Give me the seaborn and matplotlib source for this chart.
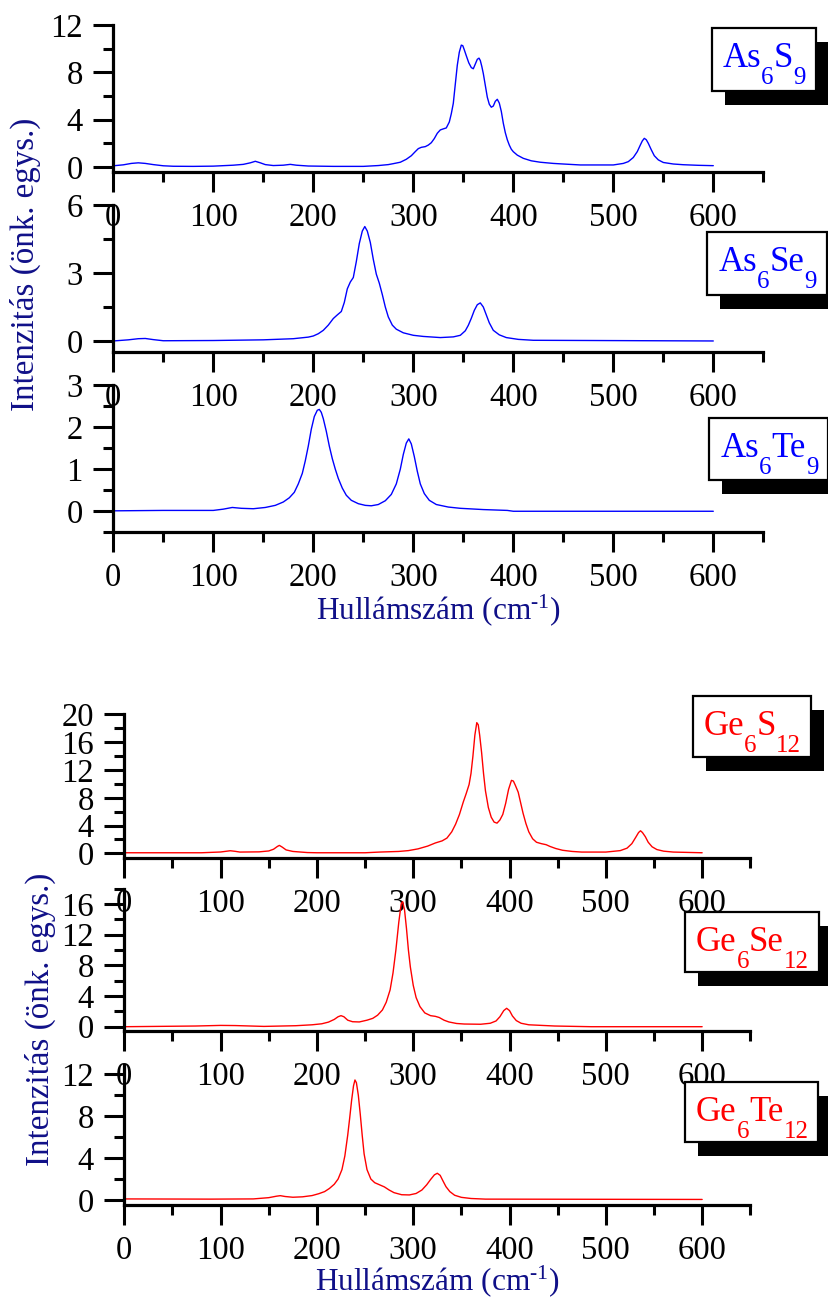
import matplotlib
matplotlib.use("Agg")
import matplotlib.pyplot as plt
from matplotlib.patches import Rectangle
from matplotlib.ticker import MultipleLocator, FormatStrFormatter
import pandas as pd
import seaborn as sns

# ---- Raman spectra (wavenumber in cm-1, intensity in arb. units) ----
as6s9_x = [0, 10, 18, 25, 32, 40, 50, 60, 80, 100, 120, 130, 137, 142, 147, 152, 160, 170, 177,
           183, 195, 220, 250, 265, 275, 280, 287, 293, 298, 302, 305, 308, 312, 315, 318, 321,
           324, 327, 330, 333, 336, 338, 340, 342, 344, 346, 348, 349.5, 351, 353, 355.5, 358,
           360, 362, 364, 365.7, 367, 368.5, 370, 372, 374, 376, 378, 380, 382, 384, 386, 388,
           390, 392, 394, 396, 398, 400, 404, 410, 418, 427, 440, 450, 467, 500, 510, 515, 520,
           524, 527, 529, 531, 533, 535, 538, 541, 545, 550, 560, 570, 585, 600]
as6s9_y = [0.1, 0.18, 0.3, 0.35, 0.3, 0.2, 0.1, 0.06, 0.05, 0.07, 0.15, 0.22, 0.35, 0.48, 0.35, 0.2, 0.12, 0.15, 0.22,
           0.15, 0.08, 0.05, 0.05, 0.12, 0.2, 0.28, 0.4, 0.65, 0.95, 1.3, 1.55, 1.66, 1.72, 1.85, 2.05, 2.4,
           2.85, 3.13, 3.22, 3.3, 3.8, 4.5, 5.38, 7.0, 8.6, 9.7, 10.3, 10.25, 9.9, 9.4, 8.8, 8.4,
           8.3, 8.7, 9.1, 9.2, 9.0, 8.5, 7.9, 6.9, 5.9, 5.3, 5.05, 5.15, 5.55, 5.72, 5.4, 4.7,
           3.7, 2.9, 2.3, 1.85, 1.5, 1.29, 1.0, 0.73, 0.52, 0.4, 0.3, 0.25, 0.17, 0.17, 0.3, 0.45, 0.8,
           1.3, 1.85, 2.2, 2.42, 2.3, 2.0, 1.45, 0.95, 0.6, 0.38, 0.25, 0.19, 0.14, 0.11]

as6se9_x = [0, 15, 25, 32, 40, 50, 100, 150, 180, 195, 200, 205, 210, 215, 220, 224, 228, 231, 234,
            237, 240, 243, 246, 249, 251.5, 254, 257, 260, 263, 266, 269, 272, 275, 279, 283, 290,
            300, 310, 327, 340, 347, 352, 355, 358, 361, 364, 367, 370, 373, 376, 380, 386, 393,
            405, 420, 600]
as6se9_y = [0.0, 0.05, 0.1, 0.11, 0.06, 0.01, 0.02, 0.05, 0.1, 0.17, 0.22, 0.32, 0.47, 0.7, 0.99, 1.15, 1.3, 1.7, 2.3,
            2.6, 2.8, 3.5, 4.3, 4.85, 5.05, 4.85, 4.35, 3.6, 2.95, 2.55, 2.05, 1.5, 1.06, 0.7, 0.52, 0.36,
            0.25, 0.2, 0.15, 0.18, 0.25, 0.45, 0.69, 1.0, 1.35, 1.6, 1.68, 1.5, 1.15, 0.8, 0.47, 0.27, 0.15,
            0.07, 0.03, 0.0]

as6te9_x = [0, 50, 100, 110, 119, 128, 140, 152, 162, 170, 176, 181, 185, 189, 192, 195, 198, 201,
            204, 206, 208, 210, 213, 216, 219, 222, 225, 229, 233, 238, 245, 252, 258, 265, 272, 278,
            283, 287, 290, 293, 295.5, 298, 301, 304, 307, 311, 316, 323, 335, 347, 370, 394, 400, 600]
as6te9_y = [0.01, 0.02, 0.02, 0.05, 0.09, 0.07, 0.06, 0.09, 0.14, 0.22, 0.32, 0.45, 0.65, 0.9, 1.2, 1.55, 1.95, 2.25,
            2.4, 2.42, 2.35, 2.2, 1.9, 1.55, 1.25, 1.0, 0.78, 0.55, 0.38, 0.26, 0.18, 0.14, 0.13, 0.16, 0.25, 0.4,
            0.65, 1.0, 1.35, 1.62, 1.72, 1.6, 1.3, 0.95, 0.65, 0.42, 0.26, 0.16, 0.1, 0.07, 0.04, 0.02, 0.0, 0.0]

ge6s12_x = [0, 80, 100, 110, 115, 120, 140, 150, 155, 159, 161, 164, 168, 175, 190, 200, 250, 265,
            285, 295, 305, 315, 323, 330, 335, 340, 344, 348, 352, 355, 358, 360, 362, 364, 366,
            367.5, 369, 371, 373, 375, 378, 381, 384, 387, 390, 393, 396, 399, 402, 404, 406, 409,
            411, 414, 417, 420, 424, 428, 433, 438, 442, 448, 455, 465, 475, 500, 515, 522, 527,
            531, 534, 536, 538, 541, 544, 548, 553, 560, 570, 600]
ge6s12_y = [0.09, 0.09, 0.2, 0.38, 0.3, 0.19, 0.22, 0.35, 0.6, 1.0, 1.15, 0.9, 0.5, 0.28, 0.12, 0.09, 0.09, 0.19,
            0.28, 0.4, 0.65, 1.05, 1.5, 1.8, 2.2, 3.1, 4.2, 5.6, 7.4, 8.6, 9.9, 11.5, 14.0, 17.0, 18.8,
            18.5, 17.0, 14.5, 11.5, 9.0, 6.6, 5.2, 4.5, 4.35, 4.8, 5.6, 7.2, 9.2, 10.5, 10.4, 9.8, 8.8,
            7.6, 5.8, 4.3, 3.1, 2.1, 1.6, 1.4, 1.25, 1.0, 0.7, 0.45, 0.28, 0.19, 0.19, 0.4, 0.75, 1.4,
            2.3, 3.0, 3.25, 3.0, 2.4, 1.6, 0.95, 0.55, 0.32, 0.19, 0.09]

ge6se12_x = [0, 74, 100, 115, 145, 178, 195, 205, 212, 218, 222, 225, 228, 232, 237, 244, 252, 258,
             263, 268, 272, 276, 279, 282, 285, 287.5, 289, 291, 293, 295, 297, 300, 303, 307, 312,
             318, 323, 327, 332, 337, 345, 353, 370, 380, 386, 390, 394, 397, 400, 403, 407, 412,
             420, 447, 485, 600]
ge6se12_y = [0.0, 0.09, 0.17, 0.15, 0.04, 0.13, 0.25, 0.38, 0.6, 0.95, 1.3, 1.44, 1.3, 0.85, 0.65, 0.62, 0.85, 1.09,
             1.5, 2.18, 3.2, 4.8, 7.0, 10.0, 13.6, 16.0, 16.3, 15.2, 12.8, 10.0, 7.8, 5.4, 3.8, 2.62, 1.8,
             1.44, 1.35, 1.2, 0.85, 0.62, 0.42, 0.35, 0.32, 0.45, 0.75, 1.3, 2.1, 2.4, 2.1, 1.4, 0.8, 0.45,
             0.25, 0.09, 0.0, 0.0]

ge6te12_x = [0, 90, 134, 150, 158, 162, 167, 175, 185, 195, 202, 208, 213, 218, 222, 226, 229, 232,
             234, 236, 238, 239.5, 241, 243, 245, 247, 249, 252, 256, 260, 265, 270, 275, 280, 288,
             296, 303, 309, 314, 318, 322, 325, 328, 331, 334, 338, 343, 350, 360, 375, 600]
ge6te12_y = [0.1, 0.08, 0.1, 0.22, 0.36, 0.41, 0.33, 0.26, 0.3, 0.42, 0.6, 0.8, 1.1, 1.5, 2.0, 2.9, 4.2, 6.2,
             7.8, 9.5, 10.9, 11.46, 11.2, 10.0, 8.2, 6.2, 4.4, 2.9, 2.0, 1.65, 1.45, 1.25, 0.95, 0.7, 0.5,
             0.48, 0.62, 0.95, 1.45, 1.95, 2.4, 2.55, 2.35, 1.8, 1.27, 0.8, 0.45, 0.25, 0.14, 0.08, 0.05]

# compound labels as (text, is_subscript) pieces
as6s9_label = [("As", False), ("6", True), ("S", False), ("9", True)]
as6se9_label = [("As", False), ("6", True), ("Se", False), ("9", True)]
as6te9_label = [("As", False), ("6", True), ("Te", False), ("9", True)]
ge6s12_label = [("Ge", False), ("6", True), ("S", False), ("12", True)]
ge6se12_label = [("Ge", False), ("6", True), ("Se", False), ("12", True)]
ge6te12_label = [("Ge", False), ("6", True), ("Te", False), ("12", True)]

y_title = "Intenzitás (önk. egys.)"
x_title = "Hullámszám (cm$^{\\mathrm{\u2010}1}$)"

BLUE = "#0000ff"
RED = "#ff0000"
NAVY = "#101088"

sns.set_style("ticks")
plt.rcParams["font.family"] = ["Liberation Serif", "DejaVu Serif"]
plt.rcParams["mathtext.fontset"] = "custom"
plt.rcParams["mathtext.rm"] = "Liberation Serif"
plt.rcParams["mathtext.it"] = "Liberation Serif:italic"

W, H = 829, 1300
fig = plt.figure(figsize=(W / 100, H / 100), dpi=100)
renderer = fig.canvas.get_renderer()


def px_rect(left, top, width, height):
    return [left / W, 1 - (top + height) / H, width / W, height / H]


# (x, y, colour, axes rect in px, ylim, y major step, label pieces, box top-left px, box height)
panels = [
    (as6s9_x, as6s9_y, BLUE, (113.3, 25, 650, 146.7), (-0.4, 12), 4, as6s9_label, (711.7, 27.7), 63),
    (as6se9_x, as6se9_y, BLUE, (113.3, 205, 650, 147.3), (-0.5, 6), 3, as6se9_label, (707.3, 231.7), 63),
    (as6te9_x, as6te9_y, BLUE, (113.3, 385, 650, 147.3), (-0.5, 3), 1, as6te9_label, (709.3, 418), 62),
    (ge6s12_x, ge6s12_y, RED, (124.3, 714.3, 626, 143.4), (-0.62, 20), 4, ge6s12_label, (692.7, 695.7), 61),
    (ge6se12_x, ge6se12_y, RED, (124.3, 888.6, 626, 142.1), (-0.52, 18), 4, ge6se12_label, (685, 912.3), 60),
    (ge6te12_x, ge6te12_y, RED, (124.3, 1064.9, 626, 140.3), (-0.5, 12.9), 4, ge6te12_label, (685, 1081.7), 60),
]


def formula_box(pieces, left, top, height, color):
    x = left + 11
    base = top + 39
    for text, sub in pieces:
        size = 18 if sub else 25
        yb = base + (17 if sub else 0)
        t = fig.text(x / W, 1 - yb / H, text, fontsize=size, color=color,
                     ha="left", va="baseline", zorder=7)
        x += t.get_window_extent(renderer).width
    width = x - left + 10
    shadow = Rectangle(((left + 13) / W, 1 - (top + 14 + height) / H), width / W, height / H,
                       transform=fig.transFigure, facecolor="black", edgecolor="none", zorder=5)
    box = Rectangle((left / W, 1 - (top + height) / H), width / W, height / H,
                    transform=fig.transFigure, facecolor="white", edgecolor="black",
                    linewidth=1.6, zorder=6)
    fig.add_artist(shadow)
    fig.add_artist(box)


for xs, ys, color, rect, ylim, ystep, label, (bl, bt), bh in panels:
    ax = fig.add_axes(px_rect(*rect))
    ax.patch.set_visible(False)
    df = pd.DataFrame({"wavenumber": xs, "intensity": ys})
    sns.lineplot(data=df, x="wavenumber", y="intensity", ax=ax, color=color,
                 linewidth=1.0, sort=False, estimator=None)
    ax.set_xlim(0, 650)
    ax.set_ylim(*ylim)
    ax.set_xlabel("")
    ax.set_ylabel("")
    ax.xaxis.set_major_locator(MultipleLocator(100))
    ax.xaxis.set_minor_locator(MultipleLocator(50))
    ax.yaxis.set_major_locator(MultipleLocator(ystep))
    ax.yaxis.set_minor_locator(MultipleLocator(ystep / 2))
    ax.yaxis.set_major_formatter(FormatStrFormatter("%g"))
    for side in ("top", "right"):
        ax.spines[side].set_visible(False)
    for side in ("left", "bottom"):
        ax.spines[side].set_linewidth(2.3)
        ax.spines[side].set_color("black")
    ax.tick_params(which="major", direction="out", length=14.4, width=2.2,
                   labelsize=23.5, colors="black")
    ax.tick_params(which="minor", direction="out", length=7.2, width=2.2, colors="black")
    ax.tick_params(axis="x", which="major", pad=7.5)
    ax.tick_params(axis="y", which="major", pad=7.5)
    formula_box(label, bl, bt, bh, color)

# axis titles for each group
fig.text(25 / W, 1 - 264 / H, y_title, rotation=90, ha="center", va="center",
         fontsize=23.8, color=NAVY)
fig.text(438 / W, 1 - 610 / H, x_title, ha="center", va="center",
         fontsize=22.5, color=NAVY)
fig.text(40 / W, 1 - 1019 / H, y_title, rotation=90, ha="center", va="center",
         fontsize=23.8, color=NAVY)
fig.text(437 / W, 1 - 1281 / H, x_title, ha="center", va="center",
         fontsize=22.5, color=NAVY)

fig.savefig("out.png", dpi=100, facecolor="white")
